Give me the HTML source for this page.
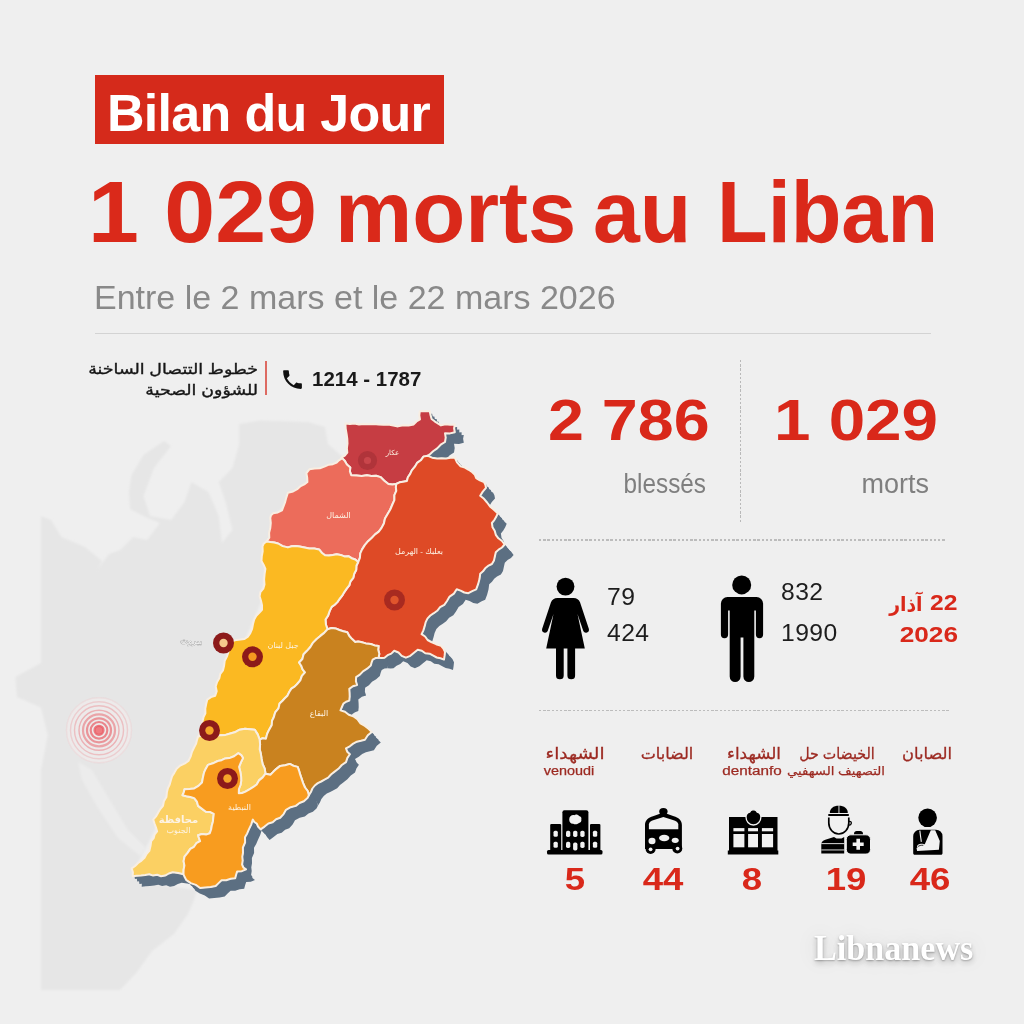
<!DOCTYPE html>
<html lang="fr">
<head>
<meta charset="utf-8">
<title>Bilan du Jour</title>
<style>
html,body{margin:0;padding:0}
body{width:1024px;height:1024px;overflow:hidden;background:#efefef;font-family:"Liberation Sans","DejaVu Sans",sans-serif;position:relative}
.abs{position:absolute;white-space:nowrap;line-height:1}
#map{position:absolute;left:0;top:0;width:1024px;height:1024px}
.banner{left:95px;top:75px;width:349px;height:69px;background:#d52a1b}
.banner span{position:absolute;left:12px;top:12px;font-weight:bold;font-size:52px;color:#fff;letter-spacing:-0.7px;line-height:1}
.h1{top:168px;font-weight:bold;font-size:88px;color:#da291a;transform-origin:0 0}
.sub{left:94px;top:280px;font-size:34px;color:#898989}
.hr{left:95px;top:332.5px;width:836px;height:1.6px;background:#d3d3d3}
.red{color:#d9281a}
.big{font-weight:bold;font-size:57px;color:#d9281a;transform-origin:0 0}
.lbl{font-size:27px;color:#7f7f7f}
.num{font-size:23.5px;color:#1d1d1d;transform-origin:0 0;transform:scaleX(1.05);letter-spacing:.4px}
.cnt{font-weight:bold;font-size:31px;color:#d9281a;text-align:center;width:80px;transform:scaleX(1.18)}
.al{font-size:16px;color:#9c2a22;-webkit-text-stroke:.3px #9c2a22;text-align:center;width:110px;direction:rtl;transform:scaleX(1.15)}
.al2{font-size:12px;color:#9c2a22;-webkit-text-stroke:.25px #9c2a22;text-align:center;width:110px;transform:scaleX(1.12)}
.vdot{left:739.7px;top:360px;width:1.3px;height:162px;background:repeating-linear-gradient(180deg,#b9b9b9 0 2.5px,transparent 2.5px 4.2px)}
.hdot{height:1.6px;background:repeating-linear-gradient(90deg,#bcbcbc 0 2.4px,transparent 2.4px 4.2px)}
</style>
</head>
<body>
<svg id="map" viewBox="0 0 1024 1024">
<defs><filter id="bl" x="-5%" y="-5%" width="110%" height="110%"><feGaussianBlur stdDeviation="1.1"/></filter></defs>
<polygon points="41.0,516.0 51.0,520.0 61.5,537.0 85.0,547.0 102.0,561.0 97.0,570.0 109.0,554.0 120.0,550.0 133.0,537.0 147.0,540.0 160.0,523.0 143.5,516.0 130.0,509.0 129.0,492.0 131.6,475.0 143.5,455.0 164.0,441.0 171.0,446.0 154.0,468.0 143.5,496.0 150.0,516.0 171.0,520.0 184.6,502.0 191.4,482.0 208.5,492.0 218.7,516.0 222.0,543.0 232.4,530.0 225.6,502.0 218.7,482.0 232.4,468.0 239.2,444.0 239.2,424.0 260.0,420.5 308.0,422.0 325.0,427.0 328.0,444.0 344.0,458.0 300.0,490.0 275.0,515.0 268.0,545.0 262.0,600.0 245.0,640.0 222.0,680.0 205.0,720.0 195.0,760.0 170.0,790.0 155.0,830.0 135.0,868.0 160.0,885.0 197.0,890.0 194.0,900.0 188.0,914.0 174.0,934.0 152.0,951.0 137.0,972.0 120.0,990.0 41.0,990.0 41.0,770.0 47.8,735.0 41.0,707.6 17.0,697.0 15.4,677.0 41.0,663.0" fill="#e6e6e6" filter="url(#bl)"/>
<polygon points="78,762 92,770 110,800 128,830 146,848 140,856 118,838 98,808 82,780" fill="#ececec" filter="url(#bl)"/>
<polygon points="347.6,426.0 361.2,427.0 380.9,427.0 400.2,429.0 415.9,427.0 422.2,422.1 422.1,413.8 432.1,413.8 433.9,421.6 443.2,428.0 457.1,427.0 457.1,434.8 447.2,435.8 447.2,444.6 431.6,457.3 425.8,459.2 414.1,472.9 409.1,483.6 398.4,486.6 390.6,486.6 382.8,479.7 369.1,477.8 353.5,477.8 352.6,470.0 343.8,460.2 349.6,455.3 349.6,441.6" fill="#5c6f82"/>
<polygon points="343.8,461.2 338.9,465.1 327.2,469.0 311.6,471.9 308.6,475.8 309.6,484.6 299.9,491.4 290.1,495.3 287.2,505.1 284.2,512.9 275.4,515.8 272.6,520.7 272.6,530.5 271.6,540.3 268.6,544.2 280.4,546.1 290.1,550.0 301.9,549.0 311.6,551.0 321.4,552.0 327.2,557.8 338.9,556.9 350.6,558.8 360.4,564.6 364.4,552.0 374.1,540.3 383.9,530.5 389.8,516.8 394.6,507.1 398.6,493.4 398.4,486.6 390.6,486.6 382.8,479.7 369.1,477.8 353.5,477.8 352.6,470.0 343.8,460.2" fill="#5c6f82"/>
<polygon points="429.6,458.3 439.4,461.2 457.1,460.2 462.9,469.0 474.6,474.9 478.4,480.7 486.2,484.6 488.2,490.5 482.4,498.3 492.2,509.0 499.9,515.9 494.1,525.6 498.1,537.4 506.9,547.1 498.1,554.9 494.1,566.6 490.2,568.5 482.4,576.3 478.4,591.9 470.6,595.8 458.9,591.9 449.2,603.6 439.4,613.4 429.6,621.2 423.9,636.8 433.6,644.6 443.4,648.5 447.2,654.4 446.2,662.2 435.6,658.3 419.9,652.4 408.1,660.3 396.4,653.4 386.8,660.3 380.9,660.3 380.9,648.5 373.1,646.6 363.2,644.6 357.4,644.6 349.6,634.9 337.9,631.0 329.8,631.9 327.8,622.1 333.9,609.5 341.8,601.6 351.6,588.0 356.4,576.3 360.4,564.6 364.4,552.0 374.1,540.3 383.9,530.5 389.8,516.8 394.6,507.1 398.6,493.4 398.4,486.6 409.1,483.6 414.1,472.9 425.8,459.2" fill="#5c6f82"/>
<polygon points="268.6,544.2 264.8,549.0 263.8,563.7 267.6,571.5 266.8,587.1 261.9,598.9 264.2,612.4 256.4,622.1 252.6,635.8 246.8,641.6 234.9,643.6 229.2,659.2 225.2,672.9 219.3,684.6 217.4,698.3 209.6,702.2 207.7,715.9 203.8,727.6 200.8,739.3 223.8,737.8 231.7,736.3 247.2,731.4 257.1,732.4 261.9,742.1 268.1,741.3 274.1,727.6 276.0,719.8 281.9,706.1 289.6,698.3 291.6,694.4 299.4,686.6 307.2,674.9 301.4,665.1 309.2,653.4 318.9,641.6 329.8,631.9 327.8,622.1 333.9,609.5 341.8,601.6 351.6,588.0 356.4,576.3 360.4,564.6 350.6,558.8 338.9,556.9 327.2,557.8 321.4,552.0 311.6,551.0 301.9,549.0 290.1,550.0 280.4,546.1" fill="#5c6f82"/>
<polygon points="329.8,631.9 337.9,631.0 349.6,634.9 357.4,644.6 363.2,644.6 373.1,646.6 380.9,648.5 380.9,660.3 374.9,662.2 373.1,668.1 365.2,673.9 358.4,679.8 359.4,687.6 351.6,691.5 351.6,703.2 345.6,706.2 342.8,713.0 355.4,718.9 367.1,728.6 374.1,734.5 367.1,742.3 355.4,746.2 348.2,751.0 352.1,756.9 348.2,764.7 336.6,774.5 326.8,782.3 317.1,788.1 311.1,797.9 307.2,790.1 303.9,781.2 299.9,769.5 292.1,766.5 282.4,768.5 272.6,777.3 267.8,776.3 263.9,761.6 261.9,742.1 268.1,741.3 274.1,727.6 276.0,719.8 281.9,706.1 289.6,698.3 291.6,694.4 299.4,686.6 307.2,674.9 301.4,665.1 309.2,653.4 318.9,641.6" fill="#5c6f82"/>
<polygon points="200.3,739.2 223.8,737.8 231.7,736.3 247.2,731.4 257.1,732.4 261.9,742.1 263.9,761.6 267.8,776.3 258.9,787.1 247.2,794.5 241.0,795.8 243.3,779.2 241.3,769.5 245.2,760.7 240.4,755.8 231.7,760.7 219.9,763.6 210.2,767.5 206.2,775.3 204.2,785.1 196.4,791.0 186.8,791.9 184.8,797.8 196.4,800.7 200.3,808.5 208.2,814.4 216.0,816.4 214.1,828.1 212.1,835.9 200.3,837.8 202.3,843.7 192.6,851.5 186.8,859.3 185.8,876.9 174.9,874.9 163.2,878.9 151.6,876.9 134.9,878.9 133.9,871.0 143.8,863.2 151.6,853.5 153.5,843.7 159.3,833.9 155.4,822.2 165.2,808.5 169.2,794.9 173.1,783.1 178.8,771.4 190.7,763.6 196.4,749.9" fill="#5c6f82"/>
<polygon points="240.4,755.8 245.2,760.7 241.3,769.5 243.3,779.2 241.0,795.8 247.2,794.5 258.9,787.1 267.8,776.3 272.6,777.3 282.4,768.5 292.1,766.5 299.9,769.5 303.9,781.2 307.2,790.1 311.1,797.9 309.8,800.7 298.1,808.5 288.2,812.4 282.4,820.3 270.6,826.1 262.9,832.0 258.9,826.1 255.1,822.2 251.2,832.0 247.2,839.8 245.2,855.4 244.3,867.1 248.2,872.0 239.4,874.0 237.4,880.8 223.8,882.8 217.9,888.6 202.3,890.6 188.7,882.8 185.8,876.9 186.8,859.3 192.6,851.5 202.3,843.7 200.3,837.8 212.1,835.9 214.1,828.1 216.0,816.4 208.2,814.4 200.3,808.5 196.4,800.7 184.8,797.8 186.8,791.9 196.4,791.0 204.2,785.1 206.2,775.3 210.2,767.5 219.9,763.6 231.7,760.7" fill="#5c6f82"/>
<polygon points="349.9,428.6 363.5,429.6 383.1,429.6 402.5,431.6 418.2,429.6 424.5,424.8 424.3,416.4 434.3,416.4 436.1,424.2 445.5,430.6 459.3,429.6 459.3,437.4 449.5,438.4 449.5,447.2 433.9,459.9 428.0,461.9 416.3,475.6 411.4,486.2 400.7,489.2 392.9,489.2 385.0,482.4 371.4,480.4 355.8,480.4 354.8,472.6 346.0,462.9 351.8,457.9 351.8,444.2" fill="#5c6f82"/>
<polygon points="346.0,463.9 341.2,467.8 329.5,471.6 313.9,474.6 310.9,478.4 311.9,487.2 302.2,494.1 292.4,497.9 289.5,507.8 286.5,515.5 277.7,518.5 274.8,523.4 274.8,533.1 273.8,543.0 270.9,546.9 282.6,548.8 292.4,552.6 304.1,551.6 313.9,553.6 323.6,554.6 329.5,560.5 341.2,559.5 352.9,561.5 362.7,567.2 366.6,554.6 376.4,543.0 386.1,533.1 392.0,519.5 396.9,509.8 400.8,496.1 400.7,489.2 392.9,489.2 385.0,482.4 371.4,480.4 355.8,480.4 354.8,472.6 346.0,462.9" fill="#5c6f82"/>
<polygon points="431.9,460.9 441.7,463.9 459.3,462.9 465.1,471.6 476.8,477.6 480.7,483.4 488.5,487.2 490.5,493.1 484.7,500.9 494.5,511.6 502.2,518.5 496.4,528.2 500.3,540.0 509.1,549.8 500.3,557.5 496.4,569.2 492.5,571.1 484.7,579.0 480.7,594.5 472.9,598.5 461.2,594.5 451.5,606.2 441.7,616.0 431.9,623.9 426.1,639.5 435.8,647.2 445.6,651.1 449.5,657.0 448.5,664.9 437.8,661.0 422.2,655.0 410.4,663.0 398.7,656.0 389.0,663.0 383.1,663.0 383.1,651.1 375.3,649.2 365.5,647.2 359.7,647.2 351.8,637.5 340.1,633.6 332.0,634.5 330.0,624.8 336.2,612.1 344.0,604.2 353.8,590.6 358.7,579.0 362.7,567.2 366.6,554.6 376.4,543.0 386.1,533.1 392.0,519.5 396.9,509.8 400.8,496.1 400.7,489.2 411.4,486.2 416.3,475.6 428.0,461.9" fill="#5c6f82"/>
<polygon points="270.9,546.9 267.0,551.6 266.0,566.4 269.9,574.1 269.0,589.8 264.1,601.5 266.5,615.0 258.7,624.8 254.8,638.5 249.0,644.2 237.2,646.2 231.4,661.9 227.5,675.5 221.6,687.2 219.7,701.0 211.8,704.9 209.9,718.5 206.0,730.2 203.1,742.0 226.1,740.5 233.9,739.0 249.5,734.0 259.3,735.0 264.1,744.8 270.4,744.0 276.3,730.2 278.2,722.5 284.1,708.8 291.9,701.0 293.9,697.0 301.7,689.2 309.5,677.5 303.6,667.8 311.5,656.0 321.2,644.2 332.0,634.5 330.0,624.8 336.2,612.1 344.0,604.2 353.8,590.6 358.7,579.0 362.7,567.2 352.9,561.5 341.2,559.5 329.5,560.5 323.6,554.6 313.9,553.6 304.1,551.6 292.4,552.6 282.6,548.8" fill="#5c6f82"/>
<polygon points="332.0,634.5 340.1,633.6 351.8,637.5 359.7,647.2 365.5,647.2 375.3,649.2 383.1,651.1 383.1,663.0 377.2,664.9 375.3,670.8 367.5,676.5 360.6,682.5 361.6,690.2 353.8,694.1 353.8,705.9 347.9,708.9 345.0,715.6 357.7,721.5 369.4,731.2 376.3,737.1 369.4,745.0 357.7,748.9 350.5,753.6 354.4,759.5 350.5,767.4 338.8,777.1 329.0,785.0 319.3,790.8 313.4,800.5 309.5,792.8 306.1,783.9 302.2,772.1 294.4,769.1 284.7,771.1 274.9,780.0 270.0,779.0 266.1,764.2 264.1,744.8 270.4,744.0 276.3,730.2 278.2,722.5 284.1,708.8 291.9,701.0 293.9,697.0 301.7,689.2 309.5,677.5 303.6,667.8 311.5,656.0 321.2,644.2" fill="#5c6f82"/>
<polygon points="202.6,741.9 226.1,740.5 233.9,739.0 249.5,734.0 259.3,735.0 264.1,744.8 266.1,764.2 270.0,779.0 261.2,789.8 249.5,797.1 243.2,798.5 245.6,781.9 243.6,772.1 247.5,763.4 242.7,758.5 233.9,763.4 222.2,766.2 212.4,770.1 208.5,778.0 206.5,787.8 198.7,793.6 189.0,794.5 187.0,800.5 198.7,803.4 202.6,811.1 210.4,817.0 218.2,819.0 216.3,830.8 214.3,838.5 202.6,840.5 204.6,846.4 194.8,854.1 189.0,862.0 188.0,879.5 177.2,877.5 165.5,881.5 153.8,879.5 137.2,881.5 136.2,873.6 146.0,865.9 153.8,856.1 155.8,846.4 161.6,836.5 157.7,824.9 167.5,811.1 171.4,797.5 175.3,785.8 181.1,774.0 192.9,766.2 198.7,752.5" fill="#5c6f82"/>
<polygon points="242.7,758.5 247.5,763.4 243.6,772.1 245.6,781.9 243.2,798.5 249.5,797.1 261.2,789.8 270.0,779.0 274.9,780.0 284.7,771.1 294.4,769.1 302.2,772.1 306.1,783.9 309.5,792.8 313.4,800.5 312.0,803.4 300.3,811.1 290.5,815.0 284.7,823.0 272.9,828.8 265.1,834.6 261.2,828.8 257.3,824.9 253.4,834.6 249.5,842.5 247.5,858.0 246.6,869.8 250.5,874.6 241.7,876.6 239.7,883.5 226.1,885.5 220.2,891.2 204.6,893.2 190.9,885.5 188.0,879.5 189.0,862.0 194.8,854.1 204.6,846.4 202.6,840.5 214.3,838.5 216.3,830.8 218.2,819.0 210.4,817.0 202.6,811.1 198.7,803.4 187.0,800.5 189.0,794.5 198.7,793.6 206.5,787.8 208.5,778.0 212.4,770.1 222.2,766.2 233.9,763.4" fill="#5c6f82"/>
<polygon points="352.1,431.3 365.8,432.3 385.4,432.3 404.8,434.3 420.4,432.3 426.8,427.4 426.6,419.1 436.6,419.1 438.4,426.9 447.8,433.3 461.6,432.3 461.6,440.1 451.8,441.1 451.8,449.9 436.1,462.6 430.2,464.5 418.6,478.2 413.6,488.9 402.9,491.9 395.1,491.9 387.2,485.0 373.6,483.1 358.0,483.1 357.1,475.3 348.2,465.5 354.1,460.6 354.1,446.9" fill="#5c6f82"/>
<polygon points="348.2,466.5 343.4,470.4 331.8,474.3 316.1,477.2 313.1,481.1 314.1,489.9 304.4,496.7 294.6,500.6 291.8,510.4 288.8,518.2 279.9,521.1 277.1,526.0 277.1,535.8 276.1,545.6 273.1,549.5 284.9,551.4 294.6,555.3 306.4,554.3 316.1,556.3 325.9,557.3 331.8,563.1 343.4,562.2 355.1,564.1 364.9,569.9 368.9,557.3 378.6,545.6 388.4,535.8 394.2,522.1 399.1,512.4 403.1,498.7 402.9,491.9 395.1,491.9 387.2,485.0 373.6,483.1 358.0,483.1 357.1,475.3 348.2,465.5" fill="#5c6f82"/>
<polygon points="434.1,463.6 443.9,466.5 461.6,465.5 467.4,474.3 479.1,480.2 482.9,486.0 490.8,489.9 492.8,495.8 486.9,503.6 496.8,514.3 504.4,521.2 498.6,530.9 502.6,542.7 511.4,552.4 502.6,560.2 498.6,571.9 494.8,573.8 486.9,581.6 482.9,597.2 475.1,601.1 463.4,597.2 453.8,608.9 443.9,618.7 434.1,626.5 428.4,642.1 438.1,649.9 447.9,653.8 451.8,659.7 450.8,667.5 440.1,663.6 424.4,657.7 412.6,665.6 400.9,658.7 391.2,665.6 385.4,665.6 385.4,653.8 377.6,651.9 367.8,649.9 361.9,649.9 354.1,640.2 342.4,636.3 334.2,637.2 332.2,627.4 338.4,614.8 346.2,606.9 356.1,593.3 360.9,581.6 364.9,569.9 368.9,557.3 378.6,545.6 388.4,535.8 394.2,522.1 399.1,512.4 403.1,498.7 402.9,491.9 413.6,488.9 418.6,478.2 430.2,464.5" fill="#5c6f82"/>
<polygon points="273.1,549.5 269.2,554.3 268.2,569.0 272.1,576.8 271.2,592.4 266.4,604.1 268.8,617.7 260.9,627.4 257.1,641.1 251.2,646.9 239.4,648.9 233.7,664.5 229.8,678.2 223.8,689.9 221.9,703.6 214.1,707.5 212.2,721.2 208.2,732.9 205.3,744.6 228.3,743.1 236.2,741.6 251.8,736.7 261.6,737.7 266.4,747.4 272.6,746.6 278.6,732.9 280.5,725.1 286.4,711.4 294.1,703.6 296.1,699.7 303.9,691.9 311.8,680.2 305.9,670.4 313.8,658.7 323.4,646.9 334.2,637.2 332.2,627.4 338.4,614.8 346.2,606.9 356.1,593.3 360.9,581.6 364.9,569.9 355.1,564.1 343.4,562.2 331.8,563.1 325.9,557.3 316.1,556.3 306.4,554.3 294.6,555.3 284.9,551.4" fill="#5c6f82"/>
<polygon points="334.2,637.2 342.4,636.3 354.1,640.2 361.9,649.9 367.8,649.9 377.6,651.9 385.4,653.8 385.4,665.6 379.4,667.5 377.6,673.4 369.8,679.2 362.9,685.1 363.9,692.9 356.1,696.8 356.1,708.5 350.1,711.5 347.2,718.3 359.9,724.1 371.6,733.9 378.6,739.8 371.6,747.6 359.9,751.5 352.8,756.3 356.6,762.2 352.8,770.0 341.1,779.8 331.2,787.6 321.6,793.4 315.6,803.2 311.8,795.4 308.4,786.5 304.4,774.8 296.6,771.8 286.9,773.8 277.1,782.6 272.2,781.6 268.4,766.9 266.4,747.4 272.6,746.6 278.6,732.9 280.5,725.1 286.4,711.4 294.1,703.6 296.1,699.7 303.9,691.9 311.8,680.2 305.9,670.4 313.8,658.7 323.4,646.9" fill="#5c6f82"/>
<polygon points="204.8,744.5 228.3,743.1 236.2,741.6 251.8,736.7 261.6,737.7 266.4,747.4 268.4,766.9 272.2,781.6 263.4,792.4 251.8,799.8 245.5,801.1 247.8,784.5 245.8,774.8 249.8,766.0 244.9,761.1 236.2,766.0 224.4,768.9 214.7,772.8 210.8,780.6 208.8,790.4 200.9,796.3 191.2,797.2 189.2,803.1 200.9,806.0 204.8,813.8 212.7,819.7 220.5,821.6 218.6,833.4 216.6,841.2 204.8,843.1 206.8,849.0 197.1,856.8 191.2,864.6 190.2,882.2 179.4,880.2 167.8,884.1 156.1,882.2 139.4,884.1 138.4,876.3 148.2,868.5 156.1,858.8 158.0,849.0 163.8,839.2 159.9,827.5 169.8,813.8 173.7,800.2 177.6,788.4 183.3,776.7 195.2,768.9 200.9,755.2" fill="#5c6f82"/>
<polygon points="244.9,761.1 249.8,766.0 245.8,774.8 247.8,784.5 245.5,801.1 251.8,799.8 263.4,792.4 272.2,781.6 277.1,782.6 286.9,773.8 296.6,771.8 304.4,774.8 308.4,786.5 311.8,795.4 315.6,803.2 314.2,806.0 302.6,813.8 292.8,817.7 286.9,825.6 275.1,831.4 267.4,837.3 263.4,831.4 259.6,827.5 255.7,837.3 251.8,845.1 249.8,860.7 248.8,872.4 252.8,877.3 243.9,879.3 241.9,886.1 228.3,888.1 222.4,893.9 206.8,895.9 193.2,888.1 190.2,882.2 191.2,864.6 197.1,856.8 206.8,849.0 204.8,843.1 216.6,841.2 218.6,833.4 220.5,821.6 212.7,819.7 204.8,813.8 200.9,806.0 189.2,803.1 191.2,797.2 200.9,796.3 208.8,790.4 210.8,780.6 214.7,772.8 224.4,768.9 236.2,766.0" fill="#5c6f82"/>
<polygon points="354.4,433.9 358.9,434.5 363.5,434.0 368.0,434.9 372.9,434.5 377.8,434.8 382.7,434.4 387.6,434.9 392.5,435.2 397.4,435.1 402.2,436.0 407.0,436.9 412.2,435.7 417.5,436.0 422.7,434.9 425.5,432.0 429.0,430.0 428.3,425.9 428.8,421.7 433.8,421.4 438.8,421.7 439.5,425.6 440.6,429.5 443.6,431.8 446.8,433.8 450.0,435.9 454.5,434.8 459.2,435.3 463.8,434.9 463.1,438.8 463.8,442.7 459.0,443.9 454.0,443.7 454.7,448.1 454.0,452.5 449.7,455.2 446.2,458.9 442.1,461.8 438.4,465.2 435.7,466.9 432.5,467.1 429.8,470.8 426.1,473.4 423.7,477.4 420.8,480.8 419.2,484.4 416.9,487.7 415.9,491.5 412.2,492.2 408.6,492.8 405.2,494.5 401.3,495.0 397.4,494.5 393.3,491.2 389.5,487.6 385.1,486.2 380.4,486.5 375.9,485.7 370.7,486.4 365.5,485.9 360.2,485.7 358.9,481.9 359.3,477.9 355.9,475.1 353.7,471.2 350.5,468.1 353.8,466.1 356.3,463.2 355.9,458.6 356.5,454.1 356.3,449.5 355.6,444.3 354.7,439.1" fill="#5c6f82"/>
<polygon points="350.5,469.1 347.9,470.8 345.7,473.0 341.9,474.7 337.8,475.2 334.0,476.9 328.9,478.7 323.6,479.0 318.4,479.8 315.4,483.7 316.2,488.1 316.4,492.5 313.3,494.9 309.7,496.6 306.7,499.3 302.1,502.0 296.9,503.2 295.3,508.1 294.0,513.0 292.5,516.9 291.0,520.8 286.8,522.9 282.2,523.7 280.0,525.7 279.3,528.6 279.8,533.5 279.3,538.4 278.1,543.2 278.3,548.2 275.4,552.1 279.3,552.6 283.3,553.0 287.1,554.0 291.7,556.6 296.9,557.9 300.7,556.8 304.6,556.5 308.6,556.9 313.5,557.9 318.4,558.9 323.3,559.1 328.1,559.9 330.7,563.2 334.0,565.7 337.9,566.0 341.8,565.5 345.7,564.8 349.6,565.4 353.4,566.9 357.4,566.7 360.6,568.7 364.3,570.0 367.2,572.5 368.9,568.4 369.3,563.9 371.1,559.9 373.8,555.6 377.1,551.7 380.9,548.2 384.1,544.9 387.8,542.1 390.6,538.4 392.9,534.0 394.0,529.0 396.5,524.7 399.3,520.0 401.4,515.0 403.4,510.6 403.4,505.7 405.3,501.3 404.9,497.9 405.2,494.5 401.3,495.0 397.4,494.5 393.3,491.2 389.5,487.6 385.1,486.2 380.4,486.5 375.9,485.7 370.7,486.4 365.5,485.9 360.2,485.7 358.9,481.9 359.3,477.9 355.9,475.1 353.7,471.2 350.5,468.1" fill="#5c6f82"/>
<polygon points="436.4,466.2 441.1,468.2 446.2,469.1 450.6,468.8 455.0,469.1 459.4,468.2 463.8,468.1 466.0,472.9 469.6,476.9 473.9,478.1 477.7,480.3 481.3,482.8 483.9,485.3 485.2,488.6 488.9,490.9 493.0,492.5 494.4,495.3 495.0,498.4 491.8,502.1 489.2,506.2 493.0,509.3 496.1,513.0 499.0,516.9 502.9,520.3 506.7,523.8 505.2,527.3 503.3,530.6 500.9,533.5 501.5,537.7 503.7,541.3 504.8,545.3 507.4,548.8 511.0,551.5 513.6,555.0 511.0,558.0 507.6,560.1 504.8,562.8 503.9,566.8 503.0,570.9 500.9,574.5 497.0,576.4 494.2,578.8 492.0,581.8 489.2,584.2 488.5,589.6 487.1,594.7 485.2,599.8 481.2,601.6 477.4,603.7 473.3,603.0 469.6,601.1 465.7,599.8 462.9,604.1 458.6,607.1 456.0,611.5 453.3,615.3 449.1,617.7 446.2,621.3 442.8,623.7 439.3,626.0 436.4,629.1 434.6,632.9 433.6,636.9 432.4,640.9 430.6,644.7 434.1,647.0 436.6,650.5 440.3,652.5 445.1,654.7 450.1,656.4 452.4,659.1 454.0,662.3 453.6,666.2 453.0,670.1 449.5,668.7 445.7,668.0 442.3,666.2 438.6,664.2 434.3,663.7 430.8,661.2 426.7,660.3 423.0,663.2 419.3,666.3 414.9,668.2 410.7,666.4 407.5,663.0 403.2,661.3 400.3,664.1 396.6,665.7 393.5,668.2 390.6,668.6 387.6,668.2 388.3,664.3 387.2,660.3 387.6,656.4 383.6,655.9 379.8,654.5 374.8,653.9 370.0,652.5 367.1,651.9 364.2,652.5 361.1,649.6 358.3,646.5 356.3,642.8 352.3,641.7 348.4,640.5 344.6,638.9 340.5,638.5 336.5,639.8 334.9,635.0 334.5,630.0 337.1,626.1 338.6,621.6 340.7,617.4 343.7,615.2 346.4,612.6 348.5,609.5 351.2,606.2 353.3,602.6 355.7,599.2 358.3,595.9 359.5,591.8 362.3,588.4 363.2,584.2 365.2,580.5 365.4,576.3 367.2,572.5 368.9,568.4 369.3,563.9 371.1,559.9 373.8,555.6 377.1,551.7 380.9,548.2 384.1,544.9 387.8,542.1 390.6,538.4 392.9,534.0 394.0,529.0 396.5,524.7 399.3,520.0 401.4,515.0 403.4,510.6 403.4,505.7 405.3,501.3 404.9,497.9 405.2,494.5 408.6,492.8 412.2,492.2 415.9,491.5 416.9,487.7 419.2,484.4 420.8,480.8 423.7,477.4 426.1,473.4 429.8,470.8 432.5,467.1" fill="#5c6f82"/>
<polygon points="275.4,552.1 272.8,554.0 271.5,556.9 271.7,561.8 270.8,566.7 270.5,571.6 272.7,575.4 274.4,579.4 273.6,584.6 273.1,589.8 273.5,595.0 272.3,599.1 269.4,602.5 268.6,606.8 270.0,611.2 271.0,615.6 271.0,620.3 268.2,623.4 265.3,626.3 263.2,630.0 262.0,634.6 261.1,639.3 259.3,643.7 256.9,647.1 253.5,649.5 249.5,649.9 245.6,650.4 241.7,651.5 240.6,655.5 238.0,659.0 237.2,663.1 235.9,667.1 233.7,671.4 233.1,676.2 232.0,680.8 229.3,684.3 228.3,688.7 226.1,692.5 224.7,697.0 225.7,701.7 224.2,706.2 220.0,707.6 216.3,710.1 215.2,714.6 214.3,719.1 214.4,723.8 212.6,727.5 211.6,731.5 210.5,735.5 210.1,739.5 208.7,743.3 207.6,747.2 212.2,747.1 216.8,746.5 221.4,747.0 226.0,746.2 230.6,745.7 234.6,745.4 238.4,744.2 243.7,742.8 248.6,740.2 254.0,739.3 258.9,739.8 263.8,740.3 266.7,744.9 268.6,750.0 271.7,748.8 274.9,749.2 276.2,744.3 278.3,739.9 280.8,735.5 281.0,731.4 282.8,727.7 284.2,722.9 287.5,718.9 288.6,714.0 291.3,711.5 293.8,708.8 296.4,706.2 298.4,702.3 300.4,699.1 303.6,697.1 306.2,694.5 309.3,690.9 310.9,686.3 314.0,682.8 311.6,679.8 310.2,676.2 308.1,673.0 311.4,669.5 312.6,664.7 316.0,661.3 319.4,657.5 322.1,653.1 325.7,649.5 329.4,646.4 333.2,643.4 336.5,639.8 334.9,635.0 334.5,630.0 337.1,626.1 338.6,621.6 340.7,617.4 343.7,615.2 346.4,612.6 348.5,609.5 351.2,606.2 353.3,602.6 355.7,599.2 358.3,595.9 359.5,591.8 362.3,588.4 363.2,584.2 365.2,580.5 365.4,576.3 367.2,572.5 364.3,570.0 360.6,568.7 357.4,566.7 353.4,566.9 349.6,565.4 345.7,564.8 341.8,565.5 337.9,566.0 334.0,565.7 330.7,563.2 328.1,559.9 323.3,559.1 318.4,558.9 313.5,557.9 308.6,556.9 304.6,556.5 300.7,556.8 296.9,557.9 291.7,556.6 287.1,554.0 283.3,553.0 279.3,552.6" fill="#5c6f82"/>
<polygon points="336.5,639.8 340.5,638.5 344.6,638.9 348.4,640.5 352.3,641.7 356.3,642.8 358.3,646.5 361.1,649.6 364.2,652.5 367.1,651.9 370.0,652.5 374.8,653.9 379.8,654.5 383.6,655.9 387.6,656.4 387.2,660.3 388.3,664.3 387.6,668.2 384.5,668.6 381.7,670.1 380.6,673.0 379.8,676.0 376.2,679.2 372.0,681.8 368.9,685.2 365.1,687.7 364.9,691.7 366.1,695.5 361.9,696.8 358.3,699.4 358.6,703.3 358.7,707.2 358.3,711.1 355.1,712.2 352.4,714.1 350.9,717.5 349.5,720.9 354.0,722.3 357.8,725.2 362.2,726.8 366.4,729.6 369.5,733.8 373.9,736.5 377.5,739.3 380.8,742.4 376.8,745.8 373.9,750.2 369.9,751.3 365.9,752.2 362.2,754.1 358.8,756.8 355.0,758.9 356.3,762.3 358.9,764.8 356.4,768.4 355.0,772.6 350.8,775.5 347.4,779.3 343.3,782.4 340.0,785.0 337.2,788.2 333.5,790.2 330.2,792.0 326.8,793.6 323.8,796.0 321.4,799.0 319.9,802.5 317.9,805.8 316.7,801.5 314.0,798.0 312.1,793.6 310.6,789.1 309.2,785.2 308.1,781.3 306.7,777.4 302.6,776.4 298.9,774.4 294.1,775.7 289.2,776.4 285.7,779.1 282.5,782.1 279.4,785.2 274.5,784.2 273.7,779.2 271.6,774.5 270.6,769.5 269.9,764.6 268.7,759.8 269.1,754.9 268.6,750.0 271.7,748.8 274.9,749.2 276.2,744.3 278.3,739.9 280.8,735.5 281.0,731.4 282.8,727.7 284.2,722.9 287.5,718.9 288.6,714.0 291.3,711.5 293.8,708.8 296.4,706.2 298.4,702.3 300.4,699.1 303.6,697.1 306.2,694.5 309.3,690.9 310.9,686.3 314.0,682.8 311.6,679.8 310.2,676.2 308.1,673.0 311.4,669.5 312.6,664.7 316.0,661.3 319.4,657.5 322.1,653.1 325.7,649.5 329.4,646.4 333.2,643.4" fill="#5c6f82"/>
<polygon points="207.1,747.1 211.8,746.0 216.5,746.1 221.2,746.6 225.9,745.5 230.6,745.7 234.6,745.4 238.4,744.2 243.7,742.8 248.6,740.2 254.0,739.3 258.9,739.8 263.8,740.3 266.7,744.9 268.6,750.0 269.1,754.9 268.7,759.8 269.9,764.6 270.6,769.5 271.6,774.5 273.7,779.2 274.5,784.2 271.7,787.9 268.0,790.9 265.7,795.0 262.0,797.7 258.0,800.1 254.0,802.4 251.0,803.5 247.8,803.7 247.9,799.5 249.5,795.5 250.2,791.3 250.1,787.1 249.3,782.2 248.1,777.4 249.9,772.9 252.0,768.6 250.2,765.6 247.2,763.7 243.1,766.7 238.4,768.6 234.3,768.9 230.6,770.7 226.7,771.5 222.0,773.8 216.9,775.4 214.8,779.2 213.0,783.2 211.9,788.1 211.0,793.0 207.5,796.4 203.2,798.9 198.4,799.5 193.5,799.8 192.8,802.8 191.5,805.7 195.4,806.7 199.3,807.5 203.2,808.6 205.9,812.1 207.1,816.4 211.0,819.4 214.9,822.3 219.0,822.4 222.8,824.2 222.3,828.2 221.9,832.2 220.8,836.0 220.1,840.0 218.8,843.8 215.0,845.1 210.9,844.5 207.1,845.7 208.0,848.7 209.1,851.6 205.4,853.7 203.0,857.3 199.3,859.4 196.6,863.4 193.5,867.2 192.6,871.6 193.4,876.0 192.6,880.4 192.5,884.8 187.2,883.5 181.7,882.8 177.8,884.0 174.1,886.1 170.0,886.8 166.2,885.3 162.1,886.1 158.3,884.8 154.2,885.4 150.0,885.9 145.8,886.3 141.7,886.8 141.9,882.7 140.7,878.9 144.1,876.5 147.1,873.5 150.5,871.1 153.5,868.2 155.5,864.5 158.3,861.4 159.5,856.5 160.2,851.6 162.7,848.6 163.7,844.8 166.1,841.8 164.9,837.9 163.5,834.0 162.2,830.1 165.0,826.9 167.1,823.2 169.3,819.6 172.0,816.4 172.9,811.7 175.4,807.6 175.9,802.8 176.9,798.8 178.7,795.0 179.8,791.0 181.1,786.8 183.4,783.1 185.6,779.3 189.2,776.1 193.5,774.2 197.4,771.5 199.6,767.1 201.0,762.3 203.2,757.8 205.0,754.4 205.9,750.7" fill="#5c6f82"/>
<polygon points="247.2,763.7 250.2,765.6 252.0,768.6 249.9,772.9 248.1,777.4 249.3,782.2 250.1,787.1 250.2,791.3 249.5,795.5 247.9,799.5 247.8,803.7 251.0,803.5 254.0,802.4 258.0,800.1 262.0,797.7 265.7,795.0 268.0,790.9 271.7,787.9 274.5,784.2 279.4,785.2 282.5,782.1 285.7,779.1 289.2,776.4 294.1,775.7 298.9,774.4 302.6,776.4 306.7,777.4 308.1,781.3 309.2,785.2 310.6,789.1 312.1,793.6 314.0,798.0 316.7,801.5 317.9,805.8 316.5,808.6 312.9,811.7 308.5,813.5 304.8,816.4 299.7,817.7 295.0,820.3 292.6,824.6 289.2,828.2 285.1,829.8 281.7,832.8 277.4,834.0 273.6,837.1 269.6,839.9 267.2,837.3 265.7,834.0 263.3,832.5 261.8,830.1 260.2,835.1 257.9,839.9 256.2,843.9 254.0,847.7 254.1,853.0 251.9,858.0 252.0,863.3 251.3,867.2 251.7,871.1 251.1,875.0 252.4,878.0 255.0,879.9 250.8,881.7 246.2,881.9 245.1,885.3 244.2,888.7 239.7,889.3 235.2,890.7 230.6,890.7 227.6,893.6 224.7,896.5 219.6,897.6 214.3,897.9 209.1,898.5 204.8,895.4 199.8,893.6 195.4,890.7 193.8,887.8 192.5,884.8 192.6,880.4 193.4,876.0 192.6,871.6 193.5,867.2 196.6,863.4 199.3,859.4 203.0,857.3 205.4,853.7 209.1,851.6 208.0,848.7 207.1,845.7 210.9,844.5 215.0,845.1 218.8,843.8 220.1,840.0 220.8,836.0 221.9,832.2 222.3,828.2 222.8,824.2 219.0,822.4 214.9,822.3 211.0,819.4 207.1,816.4 205.9,812.1 203.2,808.6 199.3,807.5 195.4,806.7 191.5,805.7 192.8,802.8 193.5,799.8 198.4,799.5 203.2,798.9 207.5,796.4 211.0,793.0 211.9,788.1 213.0,783.2 214.8,779.2 216.9,775.4 222.0,773.8 226.7,771.5 230.6,770.7 234.3,768.9 238.4,768.6 243.1,766.7" fill="#5c6f82"/>
<polygon points="345.4,423.4 349.9,424.0 354.5,423.5 359.0,424.4 363.9,424.0 368.8,424.3 373.7,423.9 378.6,424.4 383.5,424.7 388.4,424.6 393.2,425.5 398.0,426.4 403.2,425.2 408.5,425.5 413.7,424.4 416.5,421.5 420.0,419.5 419.3,415.4 419.8,411.2 424.8,410.9 429.8,411.2 430.5,415.1 431.6,419.0 434.6,421.3 437.8,423.3 441.0,425.4 445.5,424.3 450.2,424.8 454.8,424.4 454.1,428.3 454.8,432.2 450.0,433.4 445.0,433.2 445.7,437.6 445.0,442.0 440.7,444.7 437.2,448.4 433.1,451.3 429.4,454.7 426.7,456.4 423.5,456.6 420.8,460.3 417.1,462.9 414.7,466.9 411.8,470.3 410.2,473.9 407.9,477.2 406.9,481.0 403.2,481.7 399.6,482.3 396.2,484.0 392.3,484.5 388.4,484.0 384.3,480.7 380.5,477.1 376.1,475.7 371.4,476.0 366.9,475.2 361.7,475.9 356.5,475.4 351.2,475.2 349.9,471.4 350.3,467.4 346.9,464.6 344.7,460.7 341.5,457.6 344.8,455.6 347.3,452.7 346.9,448.1 347.5,443.6 347.3,439.0 346.6,433.8 345.7,428.6" fill="#f8eee2" stroke="#f8eee2" stroke-width="1"/>
<polygon points="341.5,458.6 338.9,460.3 336.7,462.5 332.9,464.2 328.8,464.7 325.0,466.4 319.9,468.2 314.6,468.5 309.4,469.3 306.4,473.2 307.2,477.6 307.4,482.0 304.3,484.4 300.7,486.1 297.7,488.8 293.1,491.5 287.9,492.7 286.3,497.6 285.0,502.5 283.5,506.4 282.0,510.3 277.8,512.4 273.2,513.2 271.0,515.2 270.3,518.1 270.8,523.0 270.3,527.9 269.1,532.7 269.3,537.7 266.4,541.6 270.3,542.1 274.3,542.5 278.1,543.5 282.7,546.1 287.9,547.4 291.7,546.3 295.6,546.0 299.6,546.4 304.5,547.4 309.4,548.4 314.3,548.6 319.1,549.4 321.7,552.7 325.0,555.2 328.9,555.5 332.8,555.0 336.7,554.3 340.6,554.9 344.4,556.4 348.4,556.2 351.6,558.2 355.3,559.5 358.2,562.0 359.9,557.9 360.3,553.4 362.1,549.4 364.8,545.1 368.1,541.2 371.9,537.7 375.1,534.4 378.8,531.6 381.6,527.9 383.9,523.5 385.0,518.5 387.5,514.2 390.3,509.5 392.4,504.5 394.4,500.1 394.4,495.2 396.3,490.8 395.9,487.4 396.2,484.0 392.3,484.5 388.4,484.0 384.3,480.7 380.5,477.1 376.1,475.7 371.4,476.0 366.9,475.2 361.7,475.9 356.5,475.4 351.2,475.2 349.9,471.4 350.3,467.4 346.9,464.6 344.7,460.7 341.5,457.6" fill="#f8eee2" stroke="#f8eee2" stroke-width="1"/>
<polygon points="427.4,455.7 432.1,457.7 437.2,458.6 441.6,458.3 446.0,458.6 450.4,457.7 454.8,457.6 457.0,462.4 460.6,466.4 464.9,467.6 468.7,469.8 472.3,472.3 474.9,474.8 476.2,478.1 479.9,480.4 484.0,482.0 485.4,484.8 486.0,487.9 482.8,491.6 480.2,495.7 484.0,498.8 487.1,502.5 490.0,506.4 493.9,509.8 497.7,513.3 496.2,516.8 494.3,520.1 491.9,523.0 492.5,527.2 494.7,530.8 495.8,534.8 498.4,538.3 502.0,541.0 504.6,544.5 502.0,547.5 498.6,549.6 495.8,552.3 494.9,556.3 494.0,560.4 491.9,564.0 488.0,565.9 485.2,568.3 483.0,571.3 480.2,573.7 479.5,579.1 478.1,584.2 476.2,589.3 472.2,591.1 468.4,593.2 464.3,592.5 460.6,590.6 456.7,589.3 453.9,593.6 449.6,596.6 447.0,601.0 444.3,604.8 440.1,607.2 437.2,610.8 433.8,613.2 430.3,615.5 427.4,618.6 425.6,622.4 424.6,626.4 423.4,630.4 421.6,634.2 425.1,636.5 427.6,640.0 431.3,642.0 436.1,644.2 441.1,645.9 443.4,648.6 445.0,651.8 444.6,655.7 444.0,659.6 440.5,658.2 436.7,657.5 433.3,655.7 429.6,653.7 425.3,653.2 421.8,650.7 417.7,649.8 414.0,652.7 410.3,655.8 405.9,657.7 401.7,655.9 398.5,652.5 394.2,650.8 391.3,653.6 387.6,655.2 384.5,657.7 381.6,658.1 378.6,657.7 379.3,653.8 378.2,649.8 378.6,645.9 374.6,645.4 370.8,644.0 365.8,643.4 361.0,642.0 358.1,641.4 355.2,642.0 352.1,639.1 349.3,636.0 347.3,632.3 343.3,631.2 339.4,630.0 335.6,628.4 331.5,628.0 327.5,629.3 325.9,624.5 325.5,619.5 328.1,615.6 329.6,611.1 331.7,606.9 334.7,604.7 337.4,602.1 339.5,599.0 342.2,595.7 344.3,592.1 346.7,588.7 349.3,585.4 350.5,581.3 353.3,577.9 354.2,573.7 356.2,570.0 356.4,565.8 358.2,562.0 359.9,557.9 360.3,553.4 362.1,549.4 364.8,545.1 368.1,541.2 371.9,537.7 375.1,534.4 378.8,531.6 381.6,527.9 383.9,523.5 385.0,518.5 387.5,514.2 390.3,509.5 392.4,504.5 394.4,500.1 394.4,495.2 396.3,490.8 395.9,487.4 396.2,484.0 399.6,482.3 403.2,481.7 406.9,481.0 407.9,477.2 410.2,473.9 411.8,470.3 414.7,466.9 417.1,462.9 420.8,460.3 423.5,456.6" fill="#f8eee2" stroke="#f8eee2" stroke-width="1"/>
<polygon points="266.4,541.6 263.8,543.5 262.5,546.4 262.7,551.3 261.8,556.2 261.5,561.1 263.7,564.9 265.4,568.9 264.6,574.1 264.1,579.3 264.5,584.5 263.3,588.6 260.4,592.0 259.6,596.2 261.0,600.7 262.0,605.1 262.0,609.8 259.2,612.9 256.3,615.8 254.2,619.5 253.0,624.1 252.1,628.8 250.3,633.2 247.9,636.6 244.5,639.0 240.5,639.4 236.6,639.9 232.7,641.0 231.6,645.0 229.0,648.5 228.2,652.6 226.9,656.6 224.7,660.9 224.1,665.7 223.0,670.3 220.3,673.8 219.3,678.2 217.1,682.0 215.7,686.5 216.7,691.2 215.2,695.7 211.0,697.1 207.3,699.6 206.2,704.1 205.3,708.6 205.4,713.3 203.6,717.0 202.6,721.0 201.5,725.0 201.1,729.0 199.7,732.8 198.6,736.7 203.2,736.6 207.8,736.0 212.4,736.5 217.0,735.7 221.6,735.2 225.6,734.9 229.4,733.7 234.7,732.3 239.6,729.7 245.0,728.8 249.9,729.3 254.8,729.8 257.7,734.4 259.6,739.5 262.7,738.3 265.9,738.7 267.2,733.8 269.3,729.4 271.8,725.0 272.0,720.9 273.8,717.2 275.2,712.4 278.5,708.4 279.6,703.5 282.3,701.0 284.8,698.3 287.4,695.7 289.4,691.8 291.4,688.6 294.6,686.6 297.2,684.0 300.3,680.4 301.9,675.8 305.0,672.3 302.6,669.3 301.2,665.7 299.1,662.5 302.4,659.0 303.6,654.2 307.0,650.8 310.4,647.0 313.1,642.6 316.7,639.0 320.4,635.9 324.2,632.9 327.5,629.3 325.9,624.5 325.5,619.5 328.1,615.6 329.6,611.1 331.7,606.9 334.7,604.7 337.4,602.1 339.5,599.0 342.2,595.7 344.3,592.1 346.7,588.7 349.3,585.4 350.5,581.3 353.3,577.9 354.2,573.7 356.2,570.0 356.4,565.8 358.2,562.0 355.3,559.5 351.6,558.2 348.4,556.2 344.4,556.4 340.6,554.9 336.7,554.3 332.8,555.0 328.9,555.5 325.0,555.2 321.7,552.7 319.1,549.4 314.3,548.6 309.4,548.4 304.5,547.4 299.6,546.4 295.6,546.0 291.7,546.3 287.9,547.4 282.7,546.1 278.1,543.5 274.3,542.5 270.3,542.1" fill="#f8eee2" stroke="#f8eee2" stroke-width="1"/>
<polygon points="327.5,629.3 331.5,628.0 335.6,628.4 339.4,630.0 343.3,631.2 347.3,632.3 349.3,636.0 352.1,639.1 355.2,642.0 358.1,641.4 361.0,642.0 365.8,643.4 370.8,644.0 374.6,645.4 378.6,645.9 378.2,649.8 379.3,653.8 378.6,657.7 375.5,658.1 372.7,659.6 371.6,662.5 370.8,665.5 367.2,668.7 363.0,671.3 359.9,674.7 356.1,677.2 355.9,681.2 357.1,685.0 352.9,686.3 349.3,688.9 349.6,692.8 349.7,696.7 349.3,700.6 346.1,701.7 343.4,703.6 341.9,707.0 340.5,710.4 345.0,711.8 348.8,714.7 353.2,716.2 357.4,719.1 360.5,723.3 364.9,726.0 368.5,728.8 371.8,731.9 367.8,735.3 364.9,739.7 360.9,740.8 356.9,741.7 353.2,743.6 349.8,746.3 346.0,748.4 347.3,751.8 349.9,754.3 347.4,757.9 346.0,762.1 341.8,765.0 338.4,768.8 334.3,771.9 331.0,774.5 328.2,777.7 324.5,779.7 321.2,781.5 317.8,783.1 314.8,785.5 312.4,788.5 310.9,792.0 308.9,795.3 307.7,791.0 305.0,787.5 303.1,783.1 301.6,778.6 300.2,774.7 299.1,770.8 297.7,766.9 293.6,765.9 289.9,763.9 285.1,765.2 280.2,765.9 276.7,768.6 273.5,771.6 270.4,774.7 265.5,773.7 264.7,768.7 262.6,764.0 261.6,759.0 260.9,754.1 259.7,749.3 260.1,744.4 259.6,739.5 262.7,738.3 265.9,738.7 267.2,733.8 269.3,729.4 271.8,725.0 272.0,720.9 273.8,717.2 275.2,712.4 278.5,708.4 279.6,703.5 282.3,701.0 284.8,698.3 287.4,695.7 289.4,691.8 291.4,688.6 294.6,686.6 297.2,684.0 300.3,680.4 301.9,675.8 305.0,672.3 302.6,669.3 301.2,665.7 299.1,662.5 302.4,659.0 303.6,654.2 307.0,650.8 310.4,647.0 313.1,642.6 316.7,639.0 320.4,635.9 324.2,632.9" fill="#f8eee2" stroke="#f8eee2" stroke-width="1"/>
<polygon points="198.1,736.6 202.8,735.5 207.5,735.6 212.2,736.1 216.9,735.0 221.6,735.2 225.6,734.9 229.4,733.7 234.7,732.3 239.6,729.7 245.0,728.8 249.9,729.3 254.8,729.8 257.7,734.4 259.6,739.5 260.1,744.4 259.7,749.3 260.9,754.1 261.6,759.0 262.6,764.0 264.7,768.7 265.5,773.7 262.7,777.4 259.0,780.4 256.7,784.5 253.0,787.2 249.0,789.6 245.0,791.9 242.0,793.0 238.8,793.2 238.9,789.0 240.5,785.0 241.2,780.8 241.1,776.6 240.3,771.7 239.1,766.9 240.9,762.4 243.0,758.1 241.2,755.1 238.2,753.2 234.1,756.2 229.4,758.1 225.3,758.4 221.6,760.2 217.7,761.0 213.0,763.3 207.9,764.9 205.8,768.7 204.0,772.7 202.9,777.6 202.0,782.5 198.5,785.9 194.2,788.4 189.4,789.0 184.5,789.3 183.8,792.3 182.5,795.2 186.4,796.2 190.3,797.0 194.2,798.1 196.9,801.6 198.1,805.9 202.0,808.9 205.9,811.8 210.0,811.9 213.8,813.8 213.3,817.7 212.9,821.7 211.8,825.5 211.1,829.5 209.8,833.3 206.0,834.6 201.9,834.0 198.1,835.2 199.0,838.2 200.1,841.1 196.4,843.2 194.0,846.8 190.3,848.9 187.6,852.9 184.5,856.7 183.6,861.1 184.4,865.5 183.6,869.9 183.5,874.3 178.2,873.0 172.7,872.3 168.8,873.5 165.1,875.6 161.0,876.2 157.2,874.8 153.1,875.6 149.3,874.3 145.2,874.9 141.0,875.4 136.8,875.8 132.7,876.2 132.9,872.2 131.7,868.4 135.1,866.0 138.1,863.0 141.5,860.6 144.5,857.7 146.5,854.0 149.3,850.9 150.5,846.0 151.2,841.1 153.7,838.1 154.7,834.3 157.1,831.3 155.9,827.4 154.5,823.5 153.2,819.6 156.0,816.4 158.1,812.7 160.3,809.1 163.0,805.9 163.9,801.2 166.4,797.1 166.9,792.3 167.9,788.3 169.7,784.5 170.8,780.5 172.1,776.3 174.4,772.6 176.6,768.8 180.2,765.6 184.5,763.7 188.4,761.0 190.6,756.6 192.0,751.8 194.2,747.3 196.0,743.9 196.9,740.2" fill="#f8eee2" stroke="#f8eee2" stroke-width="1"/>
<polygon points="238.2,753.2 241.2,755.1 243.0,758.1 240.9,762.4 239.1,766.9 240.3,771.7 241.1,776.6 241.2,780.8 240.5,785.0 238.9,789.0 238.8,793.2 242.0,793.0 245.0,791.9 249.0,789.6 253.0,787.2 256.7,784.5 259.0,780.4 262.7,777.4 265.5,773.7 270.4,774.7 273.5,771.6 276.7,768.6 280.2,765.9 285.1,765.2 289.9,763.9 293.6,765.9 297.7,766.9 299.1,770.8 300.2,774.7 301.6,778.6 303.1,783.1 305.0,787.5 307.7,791.0 308.9,795.3 307.5,798.1 303.9,801.2 299.5,803.0 295.8,805.9 290.7,807.2 286.0,809.8 283.6,814.1 280.2,817.7 276.1,819.3 272.7,822.3 268.4,823.5 264.6,826.6 260.6,829.4 258.2,826.8 256.7,823.5 254.3,822.0 252.8,819.6 251.2,824.6 248.9,829.4 247.2,833.4 245.0,837.2 245.1,842.5 242.9,847.5 243.0,852.8 242.3,856.7 242.7,860.6 242.1,864.5 243.4,867.5 246.0,869.4 241.8,871.2 237.2,871.4 236.1,874.8 235.2,878.2 230.7,878.8 226.2,880.2 221.6,880.2 218.6,883.1 215.7,886.0 210.6,887.1 205.3,887.4 200.1,888.0 195.8,884.9 190.8,883.1 186.4,880.2 184.8,877.3 183.5,874.3 183.6,869.9 184.4,865.5 183.6,861.1 184.5,856.7 187.6,852.9 190.3,848.9 194.0,846.8 196.4,843.2 200.1,841.1 199.0,838.2 198.1,835.2 201.9,834.0 206.0,834.6 209.8,833.3 211.1,829.5 211.8,825.5 212.9,821.7 213.3,817.7 213.8,813.8 210.0,811.9 205.9,811.8 202.0,808.9 198.1,805.9 196.9,801.6 194.2,798.1 190.3,797.0 186.4,796.2 182.5,795.2 183.8,792.3 184.5,789.3 189.4,789.0 194.2,788.4 198.5,785.9 202.0,782.5 202.9,777.6 204.0,772.7 205.8,768.7 207.9,764.9 213.0,763.3 217.7,761.0 221.6,760.2 225.3,758.4 229.4,758.1 234.1,756.2" fill="#f8eee2" stroke="#f8eee2" stroke-width="1"/>
<polygon points="345.4,423.4 349.9,424.0 354.5,423.5 359.0,424.4 363.9,424.0 368.8,424.3 373.7,423.9 378.6,424.4 383.5,424.7 388.4,424.6 393.2,425.5 398.0,426.4 403.2,425.2 408.5,425.5 413.7,424.4 416.5,421.5 420.0,419.5 419.3,415.4 419.8,411.2 424.8,410.9 429.8,411.2 430.5,415.1 431.6,419.0 434.6,421.3 437.8,423.3 441.0,425.4 445.5,424.3 450.2,424.8 454.8,424.4 454.1,428.3 454.8,432.2 450.0,433.4 445.0,433.2 445.7,437.6 445.0,442.0 440.7,444.7 437.2,448.4 433.1,451.3 429.4,454.7 426.7,456.4 423.5,456.6 420.8,460.3 417.1,462.9 414.7,466.9 411.8,470.3 410.2,473.9 407.9,477.2 406.9,481.0 403.2,481.7 399.6,482.3 396.2,484.0 392.3,484.5 388.4,484.0 384.3,480.7 380.5,477.1 376.1,475.7 371.4,476.0 366.9,475.2 361.7,475.9 356.5,475.4 351.2,475.2 349.9,471.4 350.3,467.4 346.9,464.6 344.7,460.7 341.5,457.6 344.8,455.6 347.3,452.7 346.9,448.1 347.5,443.6 347.3,439.0 346.6,433.8 345.7,428.6" fill="#c63d43" stroke="#f8eee2" stroke-width="2" stroke-linejoin="round"/>
<polygon points="341.5,458.6 338.9,460.3 336.7,462.5 332.9,464.2 328.8,464.7 325.0,466.4 319.9,468.2 314.6,468.5 309.4,469.3 306.4,473.2 307.2,477.6 307.4,482.0 304.3,484.4 300.7,486.1 297.7,488.8 293.1,491.5 287.9,492.7 286.3,497.6 285.0,502.5 283.5,506.4 282.0,510.3 277.8,512.4 273.2,513.2 271.0,515.2 270.3,518.1 270.8,523.0 270.3,527.9 269.1,532.7 269.3,537.7 266.4,541.6 270.3,542.1 274.3,542.5 278.1,543.5 282.7,546.1 287.9,547.4 291.7,546.3 295.6,546.0 299.6,546.4 304.5,547.4 309.4,548.4 314.3,548.6 319.1,549.4 321.7,552.7 325.0,555.2 328.9,555.5 332.8,555.0 336.7,554.3 340.6,554.9 344.4,556.4 348.4,556.2 351.6,558.2 355.3,559.5 358.2,562.0 359.9,557.9 360.3,553.4 362.1,549.4 364.8,545.1 368.1,541.2 371.9,537.7 375.1,534.4 378.8,531.6 381.6,527.9 383.9,523.5 385.0,518.5 387.5,514.2 390.3,509.5 392.4,504.5 394.4,500.1 394.4,495.2 396.3,490.8 395.9,487.4 396.2,484.0 392.3,484.5 388.4,484.0 384.3,480.7 380.5,477.1 376.1,475.7 371.4,476.0 366.9,475.2 361.7,475.9 356.5,475.4 351.2,475.2 349.9,471.4 350.3,467.4 346.9,464.6 344.7,460.7 341.5,457.6" fill="#ec6c5b" stroke="#f8eee2" stroke-width="2" stroke-linejoin="round"/>
<polygon points="427.4,455.7 432.1,457.7 437.2,458.6 441.6,458.3 446.0,458.6 450.4,457.7 454.8,457.6 457.0,462.4 460.6,466.4 464.9,467.6 468.7,469.8 472.3,472.3 474.9,474.8 476.2,478.1 479.9,480.4 484.0,482.0 485.4,484.8 486.0,487.9 482.8,491.6 480.2,495.7 484.0,498.8 487.1,502.5 490.0,506.4 493.9,509.8 497.7,513.3 496.2,516.8 494.3,520.1 491.9,523.0 492.5,527.2 494.7,530.8 495.8,534.8 498.4,538.3 502.0,541.0 504.6,544.5 502.0,547.5 498.6,549.6 495.8,552.3 494.9,556.3 494.0,560.4 491.9,564.0 488.0,565.9 485.2,568.3 483.0,571.3 480.2,573.7 479.5,579.1 478.1,584.2 476.2,589.3 472.2,591.1 468.4,593.2 464.3,592.5 460.6,590.6 456.7,589.3 453.9,593.6 449.6,596.6 447.0,601.0 444.3,604.8 440.1,607.2 437.2,610.8 433.8,613.2 430.3,615.5 427.4,618.6 425.6,622.4 424.6,626.4 423.4,630.4 421.6,634.2 425.1,636.5 427.6,640.0 431.3,642.0 436.1,644.2 441.1,645.9 443.4,648.6 445.0,651.8 444.6,655.7 444.0,659.6 440.5,658.2 436.7,657.5 433.3,655.7 429.6,653.7 425.3,653.2 421.8,650.7 417.7,649.8 414.0,652.7 410.3,655.8 405.9,657.7 401.7,655.9 398.5,652.5 394.2,650.8 391.3,653.6 387.6,655.2 384.5,657.7 381.6,658.1 378.6,657.7 379.3,653.8 378.2,649.8 378.6,645.9 374.6,645.4 370.8,644.0 365.8,643.4 361.0,642.0 358.1,641.4 355.2,642.0 352.1,639.1 349.3,636.0 347.3,632.3 343.3,631.2 339.4,630.0 335.6,628.4 331.5,628.0 327.5,629.3 325.9,624.5 325.5,619.5 328.1,615.6 329.6,611.1 331.7,606.9 334.7,604.7 337.4,602.1 339.5,599.0 342.2,595.7 344.3,592.1 346.7,588.7 349.3,585.4 350.5,581.3 353.3,577.9 354.2,573.7 356.2,570.0 356.4,565.8 358.2,562.0 359.9,557.9 360.3,553.4 362.1,549.4 364.8,545.1 368.1,541.2 371.9,537.7 375.1,534.4 378.8,531.6 381.6,527.9 383.9,523.5 385.0,518.5 387.5,514.2 390.3,509.5 392.4,504.5 394.4,500.1 394.4,495.2 396.3,490.8 395.9,487.4 396.2,484.0 399.6,482.3 403.2,481.7 406.9,481.0 407.9,477.2 410.2,473.9 411.8,470.3 414.7,466.9 417.1,462.9 420.8,460.3 423.5,456.6" fill="#de4a26" stroke="#f8eee2" stroke-width="2" stroke-linejoin="round"/>
<polygon points="266.4,541.6 263.8,543.5 262.5,546.4 262.7,551.3 261.8,556.2 261.5,561.1 263.7,564.9 265.4,568.9 264.6,574.1 264.1,579.3 264.5,584.5 263.3,588.6 260.4,592.0 259.6,596.2 261.0,600.7 262.0,605.1 262.0,609.8 259.2,612.9 256.3,615.8 254.2,619.5 253.0,624.1 252.1,628.8 250.3,633.2 247.9,636.6 244.5,639.0 240.5,639.4 236.6,639.9 232.7,641.0 231.6,645.0 229.0,648.5 228.2,652.6 226.9,656.6 224.7,660.9 224.1,665.7 223.0,670.3 220.3,673.8 219.3,678.2 217.1,682.0 215.7,686.5 216.7,691.2 215.2,695.7 211.0,697.1 207.3,699.6 206.2,704.1 205.3,708.6 205.4,713.3 203.6,717.0 202.6,721.0 201.5,725.0 201.1,729.0 199.7,732.8 198.6,736.7 203.2,736.6 207.8,736.0 212.4,736.5 217.0,735.7 221.6,735.2 225.6,734.9 229.4,733.7 234.7,732.3 239.6,729.7 245.0,728.8 249.9,729.3 254.8,729.8 257.7,734.4 259.6,739.5 262.7,738.3 265.9,738.7 267.2,733.8 269.3,729.4 271.8,725.0 272.0,720.9 273.8,717.2 275.2,712.4 278.5,708.4 279.6,703.5 282.3,701.0 284.8,698.3 287.4,695.7 289.4,691.8 291.4,688.6 294.6,686.6 297.2,684.0 300.3,680.4 301.9,675.8 305.0,672.3 302.6,669.3 301.2,665.7 299.1,662.5 302.4,659.0 303.6,654.2 307.0,650.8 310.4,647.0 313.1,642.6 316.7,639.0 320.4,635.9 324.2,632.9 327.5,629.3 325.9,624.5 325.5,619.5 328.1,615.6 329.6,611.1 331.7,606.9 334.7,604.7 337.4,602.1 339.5,599.0 342.2,595.7 344.3,592.1 346.7,588.7 349.3,585.4 350.5,581.3 353.3,577.9 354.2,573.7 356.2,570.0 356.4,565.8 358.2,562.0 355.3,559.5 351.6,558.2 348.4,556.2 344.4,556.4 340.6,554.9 336.7,554.3 332.8,555.0 328.9,555.5 325.0,555.2 321.7,552.7 319.1,549.4 314.3,548.6 309.4,548.4 304.5,547.4 299.6,546.4 295.6,546.0 291.7,546.3 287.9,547.4 282.7,546.1 278.1,543.5 274.3,542.5 270.3,542.1" fill="#fbb922" stroke="#f8eee2" stroke-width="2" stroke-linejoin="round"/>
<polygon points="327.5,629.3 331.5,628.0 335.6,628.4 339.4,630.0 343.3,631.2 347.3,632.3 349.3,636.0 352.1,639.1 355.2,642.0 358.1,641.4 361.0,642.0 365.8,643.4 370.8,644.0 374.6,645.4 378.6,645.9 378.2,649.8 379.3,653.8 378.6,657.7 375.5,658.1 372.7,659.6 371.6,662.5 370.8,665.5 367.2,668.7 363.0,671.3 359.9,674.7 356.1,677.2 355.9,681.2 357.1,685.0 352.9,686.3 349.3,688.9 349.6,692.8 349.7,696.7 349.3,700.6 346.1,701.7 343.4,703.6 341.9,707.0 340.5,710.4 345.0,711.8 348.8,714.7 353.2,716.2 357.4,719.1 360.5,723.3 364.9,726.0 368.5,728.8 371.8,731.9 367.8,735.3 364.9,739.7 360.9,740.8 356.9,741.7 353.2,743.6 349.8,746.3 346.0,748.4 347.3,751.8 349.9,754.3 347.4,757.9 346.0,762.1 341.8,765.0 338.4,768.8 334.3,771.9 331.0,774.5 328.2,777.7 324.5,779.7 321.2,781.5 317.8,783.1 314.8,785.5 312.4,788.5 310.9,792.0 308.9,795.3 307.7,791.0 305.0,787.5 303.1,783.1 301.6,778.6 300.2,774.7 299.1,770.8 297.7,766.9 293.6,765.9 289.9,763.9 285.1,765.2 280.2,765.9 276.7,768.6 273.5,771.6 270.4,774.7 265.5,773.7 264.7,768.7 262.6,764.0 261.6,759.0 260.9,754.1 259.7,749.3 260.1,744.4 259.6,739.5 262.7,738.3 265.9,738.7 267.2,733.8 269.3,729.4 271.8,725.0 272.0,720.9 273.8,717.2 275.2,712.4 278.5,708.4 279.6,703.5 282.3,701.0 284.8,698.3 287.4,695.7 289.4,691.8 291.4,688.6 294.6,686.6 297.2,684.0 300.3,680.4 301.9,675.8 305.0,672.3 302.6,669.3 301.2,665.7 299.1,662.5 302.4,659.0 303.6,654.2 307.0,650.8 310.4,647.0 313.1,642.6 316.7,639.0 320.4,635.9 324.2,632.9" fill="#c9821f" stroke="#f8eee2" stroke-width="2" stroke-linejoin="round"/>
<polygon points="198.1,736.6 202.8,735.5 207.5,735.6 212.2,736.1 216.9,735.0 221.6,735.2 225.6,734.9 229.4,733.7 234.7,732.3 239.6,729.7 245.0,728.8 249.9,729.3 254.8,729.8 257.7,734.4 259.6,739.5 260.1,744.4 259.7,749.3 260.9,754.1 261.6,759.0 262.6,764.0 264.7,768.7 265.5,773.7 262.7,777.4 259.0,780.4 256.7,784.5 253.0,787.2 249.0,789.6 245.0,791.9 242.0,793.0 238.8,793.2 238.9,789.0 240.5,785.0 241.2,780.8 241.1,776.6 240.3,771.7 239.1,766.9 240.9,762.4 243.0,758.1 241.2,755.1 238.2,753.2 234.1,756.2 229.4,758.1 225.3,758.4 221.6,760.2 217.7,761.0 213.0,763.3 207.9,764.9 205.8,768.7 204.0,772.7 202.9,777.6 202.0,782.5 198.5,785.9 194.2,788.4 189.4,789.0 184.5,789.3 183.8,792.3 182.5,795.2 186.4,796.2 190.3,797.0 194.2,798.1 196.9,801.6 198.1,805.9 202.0,808.9 205.9,811.8 210.0,811.9 213.8,813.8 213.3,817.7 212.9,821.7 211.8,825.5 211.1,829.5 209.8,833.3 206.0,834.6 201.9,834.0 198.1,835.2 199.0,838.2 200.1,841.1 196.4,843.2 194.0,846.8 190.3,848.9 187.6,852.9 184.5,856.7 183.6,861.1 184.4,865.5 183.6,869.9 183.5,874.3 178.2,873.0 172.7,872.3 168.8,873.5 165.1,875.6 161.0,876.2 157.2,874.8 153.1,875.6 149.3,874.3 145.2,874.9 141.0,875.4 136.8,875.8 132.7,876.2 132.9,872.2 131.7,868.4 135.1,866.0 138.1,863.0 141.5,860.6 144.5,857.7 146.5,854.0 149.3,850.9 150.5,846.0 151.2,841.1 153.7,838.1 154.7,834.3 157.1,831.3 155.9,827.4 154.5,823.5 153.2,819.6 156.0,816.4 158.1,812.7 160.3,809.1 163.0,805.9 163.9,801.2 166.4,797.1 166.9,792.3 167.9,788.3 169.7,784.5 170.8,780.5 172.1,776.3 174.4,772.6 176.6,768.8 180.2,765.6 184.5,763.7 188.4,761.0 190.6,756.6 192.0,751.8 194.2,747.3 196.0,743.9 196.9,740.2" fill="#fbd063" stroke="#f8eee2" stroke-width="2" stroke-linejoin="round"/>
<polygon points="238.2,753.2 241.2,755.1 243.0,758.1 240.9,762.4 239.1,766.9 240.3,771.7 241.1,776.6 241.2,780.8 240.5,785.0 238.9,789.0 238.8,793.2 242.0,793.0 245.0,791.9 249.0,789.6 253.0,787.2 256.7,784.5 259.0,780.4 262.7,777.4 265.5,773.7 270.4,774.7 273.5,771.6 276.7,768.6 280.2,765.9 285.1,765.2 289.9,763.9 293.6,765.9 297.7,766.9 299.1,770.8 300.2,774.7 301.6,778.6 303.1,783.1 305.0,787.5 307.7,791.0 308.9,795.3 307.5,798.1 303.9,801.2 299.5,803.0 295.8,805.9 290.7,807.2 286.0,809.8 283.6,814.1 280.2,817.7 276.1,819.3 272.7,822.3 268.4,823.5 264.6,826.6 260.6,829.4 258.2,826.8 256.7,823.5 254.3,822.0 252.8,819.6 251.2,824.6 248.9,829.4 247.2,833.4 245.0,837.2 245.1,842.5 242.9,847.5 243.0,852.8 242.3,856.7 242.7,860.6 242.1,864.5 243.4,867.5 246.0,869.4 241.8,871.2 237.2,871.4 236.1,874.8 235.2,878.2 230.7,878.8 226.2,880.2 221.6,880.2 218.6,883.1 215.7,886.0 210.6,887.1 205.3,887.4 200.1,888.0 195.8,884.9 190.8,883.1 186.4,880.2 184.8,877.3 183.5,874.3 183.6,869.9 184.4,865.5 183.6,861.1 184.5,856.7 187.6,852.9 190.3,848.9 194.0,846.8 196.4,843.2 200.1,841.1 199.0,838.2 198.1,835.2 201.9,834.0 206.0,834.6 209.8,833.3 211.1,829.5 211.8,825.5 212.9,821.7 213.3,817.7 213.8,813.8 210.0,811.9 205.9,811.8 202.0,808.9 198.1,805.9 196.9,801.6 194.2,798.1 190.3,797.0 186.4,796.2 182.5,795.2 183.8,792.3 184.5,789.3 189.4,789.0 194.2,788.4 198.5,785.9 202.0,782.5 202.9,777.6 204.0,772.7 205.8,768.7 207.9,764.9 213.0,763.3 217.7,761.0 221.6,760.2 225.3,758.4 229.4,758.1 234.1,756.2" fill="#f89c1f" stroke="#f8eee2" stroke-width="2" stroke-linejoin="round"/>
<circle cx="367.5" cy="460.5" r="9.6" fill="#b0343a"/><circle cx="367.5" cy="460.5" r="3.6" fill="#c9464b"/>
<circle cx="394.5" cy="600" r="10.5" fill="#a82a20"/><circle cx="394.5" cy="600" r="4.2" fill="#e0552c"/>
<circle cx="223.5" cy="643" r="10.5" fill="#8c1a1a"/><circle cx="223.5" cy="643" r="4.2" fill="#f6c88c"/>
<circle cx="252.5" cy="656.8" r="10.5" fill="#8c1a1a"/><circle cx="252.5" cy="656.8" r="4.2" fill="#f59a20"/>
<circle cx="209.5" cy="730.5" r="10.5" fill="#8c1a1a"/><circle cx="209.5" cy="730.5" r="4.2" fill="#f5a52a"/>
<circle cx="227.5" cy="778.5" r="10.5" fill="#8c1a1a"/><circle cx="227.5" cy="778.5" r="4.2" fill="#f5a52a"/>
<circle cx="99" cy="730.3" r="33" fill="#f6f0f0" fill-opacity=".45"/><circle cx="99" cy="730.3" r="4" fill="#ee6a70" fill-opacity=".85"/><circle cx="99" cy="730.3" r="4.5" fill="none" stroke="#e8505a" stroke-opacity="0.75" stroke-width="2.2"/><circle cx="99" cy="730.3" r="8.3" fill="none" stroke="#e8505a" stroke-opacity="0.66" stroke-width="2.2"/><circle cx="99" cy="730.3" r="12" fill="none" stroke="#e8505a" stroke-opacity="0.56" stroke-width="2.2"/><circle cx="99" cy="730.3" r="16" fill="none" stroke="#e8505a" stroke-opacity="0.46" stroke-width="2.2"/><circle cx="99" cy="730.3" r="20" fill="none" stroke="#e8505a" stroke-opacity="0.37" stroke-width="1.4"/><circle cx="99" cy="730.3" r="24.5" fill="none" stroke="#e8505a" stroke-opacity="0.28" stroke-width="1.4"/><circle cx="99" cy="730.3" r="28.5" fill="none" stroke="#e8505a" stroke-opacity="0.18" stroke-width="1.4"/><circle cx="99" cy="730.3" r="32.5" fill="none" stroke="#e8505a" stroke-opacity="0.08" stroke-width="1.4"/>
<g font-family="&quot;Liberation Sans&quot;,&quot;DejaVu Sans&quot;,sans-serif">
<text x="392.5" y="455" font-size="7" fill="#fdf3e4" text-anchor="middle" font-weight="normal" direction="rtl">عكار</text>
<text x="338.5" y="518" font-size="8" fill="#fdf3e4" text-anchor="middle" font-weight="normal" direction="rtl">الشمال</text>
<text x="419" y="554" font-size="8" fill="#fdf3e4" text-anchor="middle" font-weight="normal" direction="rtl">بعلبك - الهرمل</text>
<text x="283" y="648" font-size="8" fill="#fdf3e4" text-anchor="middle" font-weight="normal" direction="rtl">جبل لبنان</text>
<text x="319" y="716" font-size="8" fill="#fdf3e4" text-anchor="middle" font-weight="normal" direction="rtl">البقاع</text>
<text x="239.5" y="810" font-size="8" fill="#fdf3e4" text-anchor="middle" font-weight="normal" direction="rtl">النبطية</text>
<text x="178.5" y="823" font-size="10" fill="#fdf3e4" text-anchor="middle" font-weight="bold" direction="rtl">محافظة</text>
<text x="178.5" y="833" font-size="8" fill="#fdf3e4" text-anchor="middle" font-weight="normal" direction="rtl">الجنوب</text>
<text stroke="#979797" stroke-width=".7" paint-order="stroke" x="191" y="644" font-size="8.5" fill="#f6f6f6" text-anchor="middle" font-weight="normal" direction="rtl">بيروت</text>
</g>
</svg>
<div class="abs banner"><span>Bilan du Jour</span></div>
<div class="abs h1" id="h1a" style="left:88px;transform:scaleX(1.04)">1 029</div>
<div class="abs h1" id="h1b" style="left:335px;transform:scaleX(.987)">morts</div>
<div class="abs h1" id="h1c" style="left:593px;transform:scaleX(.957)">au</div>
<div class="abs h1" id="h1d" style="left:717px;transform:scaleX(.942)">Liban</div>
<div class="abs sub">Entre le 2 mars et le 22 mars 2026</div>
<div class="abs hr"></div>

<div class="abs" style="left:57.5px;top:358px;width:200px;text-align:right;direction:rtl;font-size:15px;color:#161616;line-height:21px;transform:scaleX(1.16);transform-origin:100% 0;-webkit-text-stroke:.35px #161616">خطوط التتصال الساخنة<br>للشؤون الصحية</div>
<div class="abs" style="left:265px;top:361px;width:2px;height:34px;background:#dd6a62"></div>
<svg class="abs" style="left:279px;top:366.500px" width="27" height="25" viewBox="0 0 24 24"><path fill="#111" d="M6.6 10.8c1.4 2.8 3.8 5.1 6.600 6.600l2.200-2.200c.3-.3.700-.4 1-.200 1.100.400 2.300.600 3.600.600.600 0 1 .400 1 1V20c0 .600-.400 1-1 1C10.600 21 3 13.400 3 4c0-.600.400-1 1-1h3.500c.600 0 1 .400 1 1 0 1.300.200 2.500.600 3.600.100.300 0 .700-.200 1l-2.300 2.200z"/></svg>
<div class="abs" style="left:312px;top:370px;font-weight:bold;font-size:19.5px;color:#1a1a1a;transform:scaleX(1.05);transform-origin:0 0">1214 - 1787</div>

<div class="abs big" style="left:548px;top:392px;transform:scaleX(1.133)">2 786</div>
<div class="abs big" style="left:774px;top:392px;transform:scaleX(1.15)">1 029</div>
<div class="abs lbl" style="left:506px;top:471px;width:200px;text-align:right;transform:scaleX(.9);transform-origin:100% 0">blessés</div>
<div class="abs lbl" style="left:729px;top:471px;width:200px;text-align:right">morts</div>
<div class="abs vdot"></div>
<div class="abs hdot" style="left:539px;top:539.1px;width:407px"></div>
<div class="abs hdot" style="left:539px;top:709.6px;width:412px"></div>

<svg class="abs" style="left:0;top:0" width="1024" height="1024" viewBox="0 0 1024 1024">
<g fill="#000">
<circle cx="565.5" cy="586.6" r="8.9"/>
<path d="M557.5 598h16a7 7 0 0 1 6.600 4.600l8.800 26.500a3 3 0 0 1-5.600 2l-5.800-17 7.300 34.400h-38.600l7.300-34.400-5.800 17a3 3 0 0 1-5.600-2l8.800-26.500a7 7 0 0 1 6.600-4.600z"/>
<path d="M556 646h7.700v29.500a3.850 3.850 0 0 1-7.700 0zM567.400 646h7.700v29.500a3.850 3.850 0 0 1-7.700 0z"/>
</g>
<g fill="#000">
<circle cx="741.7" cy="584.9" r="9.500"/>
<path d="M727.500 597h29a6.600 6.600 0 0 1 6.600 6.600v31a3.600 3.600 0 0 1-7.200 0v-24h-1.600v66a5.450 5.450 0 0 1-10.900 0v-39.200h-2.800v39.200a5.450 5.450 0 0 1-10.900 0v-66h-1.600v24a3.600 3.600 0 0 1-7.200 0v-31a6.600 6.600 0 0 1 6.600-6.600z"/>
</g>
<g fill="#000">
<rect x="547" y="850" width="55.500" height="4.500" rx="1.500"/>
<rect x="550.200" y="823.900" width="11" height="28" rx="1.200"/>
<rect x="590" y="823.900" width="10.400" height="28" rx="1.200"/>
<rect x="562.400" y="810.300" width="26" height="42" rx="2"/>
</g>
<g fill="#f1f1f1">
<rect x="553.500" y="830.800" width="4.300" height="6" rx="1.500"/><rect x="553.500" y="841.700" width="4.300" height="6" rx="1.500"/>
<rect x="592.900" y="830.800" width="4.300" height="6" rx="1.500"/><rect x="592.900" y="841.700" width="4.300" height="6" rx="1.500"/>
<rect x="566" y="830.800" width="4.300" height="6.200" rx="1.700"/><rect x="573.100" y="830.800" width="4.300" height="6.200" rx="1.700"/><rect x="580.300" y="830.800" width="4.300" height="6.200" rx="1.700"/>
<rect x="566" y="841.700" width="4.300" height="6.200" rx="1.700"/><rect x="573.100" y="842.500" width="4.300" height="8" rx="1.700"/><rect x="580.300" y="841.700" width="4.300" height="6.200" rx="1.700"/>
<path d="M569.200 819.500c0-3 2.500-4.800 5-4.300 1.500-1.200 3.800-.8 4.800.800 2 .3 2.800 1.800 2.300 3.300.500 1.800-.500 3.300-2.300 3.700-1.700 1.500-4 1.700-5.800.800-2.500.200-4-1.800-4-4.300z"/>
</g>
<g>
<ellipse cx="663.400" cy="811.600" rx="4.200" ry="3.600" fill="#000"/>
<path d="M645 849v-24c0-5 3.500-7.400 8-8.800l10.400-3.800 10.400 3.800c4.500 1.400 8.100 3.800 8.100 8.800v24z" fill="#000"/>
<path d="M648.900 829.300v-4.800c0-2.500 1.800-3.600 5-4.600l9.500-2.800 9.500 2.800c3.200 1 5.400 2.100 5.400 4.600v4.800z" fill="#f1f1f1"/>
<circle cx="650.600" cy="849" r="5" fill="#000"/><circle cx="677.300" cy="848.500" r="5" fill="#000"/>
<circle cx="650.600" cy="849.300" r="1.900" fill="#f1f1f1"/><circle cx="677.600" cy="848.600" r="1.900" fill="#f1f1f1"/>
<ellipse cx="652" cy="841" rx="3.500" ry="3.200" fill="#f1f1f1"/><ellipse cx="675.200" cy="840.300" rx="3.500" ry="2.600" fill="#f1f1f1"/>
<ellipse cx="664.200" cy="838" rx="5.200" ry="3.300" fill="#f1f1f1"/>
</g>
<g>
<path d="M729 816.900h48.500v33.500h.8v4h-50.500v-4h1.200z" fill="#000"/>
<path d="M746 817c0-2.500 1.500-4.500 3.800-5 .500-1.500 2-2.500 3.600-2.200 1.700-.300 3.100.700 3.700 2.200 2.300.500 3.800 2.500 3.800 5 0 4-3 8-7.500 8s-7.400-4-7.400-8z" fill="#000" stroke="#f1f1f1" stroke-width="1.300"/>
<g fill="#f1f1f1">
<rect x="733.400" y="828.100" width="11" height="3.200"/><rect x="748.100" y="828.100" width="9.900" height="3.200"/><rect x="761.900" y="828.100" width="11.200" height="3.200"/>
<rect x="733.400" y="834" width="11" height="13.300"/><rect x="748.100" y="834" width="9.900" height="13.300"/><rect x="761.900" y="834" width="11.200" height="13.300"/>
</g>
</g>
<g>
<path d="M829.800 813c0-4.500 3.500-7.200 9-7.200s9 2.700 9 7.200z" fill="#000"/>
<rect x="838.500" y="805.500" width=".9" height="8" fill="#f1f1f1"/>
<rect x="828.300" y="814" width="20.500" height="2" fill="#000"/>
<path d="M828.800 817.500v5.500c0 6 4.500 11 10 11s10-5 10-11v-5.500" fill="#f1f1f1" stroke="#000" stroke-width="1.700"/>
<path d="M849 821.500c1.700-.300 2.500.500 2.300 1.800-.200 1.200-1.200 2-2.500 1.900" fill="none" stroke="#000" stroke-width="1.300"/>
<path d="M821.300 853.600v-9c0-2.500 1.500-4 4-4.800l8.700-2.800 2.500 1.500h5l2.700-1.500v16.600z" fill="#000"/>
<rect x="821.300" y="843.200" width="23" height=".9" fill="#f1f1f1"/><rect x="821.300" y="849.500" width="23" height=".9" fill="#f1f1f1"/>
<path d="M854 836v-2.500c0-1.500 1.200-2.600 2.700-2.600h3.600c1.500 0 2.700 1.100 2.700 2.600v2.500z" fill="#000"/>
<rect x="846.300" y="834.800" width="24.200" height="19.300" rx="4.500" fill="#000" stroke="#f1f1f1" stroke-width="1"/>
<path d="M856.400 838.800h3.600v3.700h3.700v3.600h-3.700v3.700h-3.600v-3.700h-3.700v-3.600h3.700z" fill="#f1f1f1"/>
</g>
<g>
<circle cx="927.600" cy="817.800" r="9.300" fill="#000"/>
<path d="M919.500 829.700h16.500a6.500 6.500 0 0 1 6.500 6.500v17c0 .9-.6 1.500-1.500 1.500h-26.300c-.9 0-1.500-.6-1.500-1.500v-17a6.500 6.500 0 0 1 6.300-6.500z" fill="#000"/>
<path d="M930.800 830.200h4.400l4.600 10.700-.9 8.800-21.800 1.200-.6-2.800 8.400-4.200z" fill="#f1f1f1"/>
<path d="M919.800 830.600l1.500 11.300" stroke="#f1f1f1" stroke-width="1.100" fill="none"/>
<path d="M917 846.500c.3-1.700 2-2.700 4-2.700s3.700.4 3.500 1.700c-.2 1.500-2.200 2.500-4.200 2.700s-3.500-.3-3.300-1.700z" fill="#f1f1f1"/>
<path d="M917.800 846.800c1-1.200 3.500-1.800 5.500-1.500" stroke="#000" stroke-width=".8" fill="none"/>
</g>
</svg>

<div class="abs num" style="left:607px;top:586px">79</div>
<div class="abs num" style="left:607px;top:622px">424</div>
<div class="abs num" style="left:781px;top:581px">832</div>
<div class="abs num" style="left:781px;top:622px">1990</div>
<div class="abs red" id="d22" style="right:67px;top:591.5px;font-weight:bold;font-size:22px;transform:scaleX(1.12);transform-origin:100% 0">22</div>
<div class="abs red" id="dmon" style="right:101.5px;top:594px;font-weight:bold;font-size:20px;direction:rtl;transform:scaleX(.94);transform-origin:100% 0">آذار</div>
<div class="abs red" id="dyr" style="right:66.5px;top:623.5px;font-weight:bold;font-size:22px;transform:scaleX(1.19);transform-origin:100% 0">2026</div>

<div class="abs al" style="left:520px;top:746px">الشهداء</div>
<div class="abs al2" style="left:514px;top:765px;transform:scaleX(1.2)">venoudi</div>
<div class="abs al" style="left:612px;top:746px;transform:scaleX(1.0)">الضابات</div>
<div class="abs al" style="left:699px;top:746px;transform:scaleX(1.05)">الشهداء</div>
<div class="abs al2" style="left:697px;top:765px;transform:scaleX(1.27)">dentanfo</div>
<div class="abs al" style="left:782px;top:746px;transform:scaleX(.89)">الخيضات حل</div>
<div class="abs al2" style="left:781px;top:765px;direction:rtl;transform:scaleX(1.1)">التصهيف السهفيي</div>
<div class="abs al" style="left:872px;top:746px;transform:scaleX(1.02)">الصابان</div>

<div class="abs cnt" style="left:535px;top:864px">5</div>
<div class="abs cnt" style="left:623px;top:864px">44</div>
<div class="abs cnt" style="left:712px;top:864px">8</div>
<div class="abs cnt" style="left:806px;top:864px">19</div>
<div class="abs cnt" style="left:890px;top:864px">46</div>

<div class="abs" id="logo" style="left:814px;top:931px;font-family:'Liberation Serif','DejaVu Serif',serif;font-weight:bold;font-size:35px;color:#fff;transform:scaleX(.975);transform-origin:0 0;text-shadow:0 1px 2px rgba(0,0,0,.28),0 3px 7px rgba(0,0,0,.22),0 0 22px rgba(0,0,0,.12)">Libnanews</div>
</body>
</html>
